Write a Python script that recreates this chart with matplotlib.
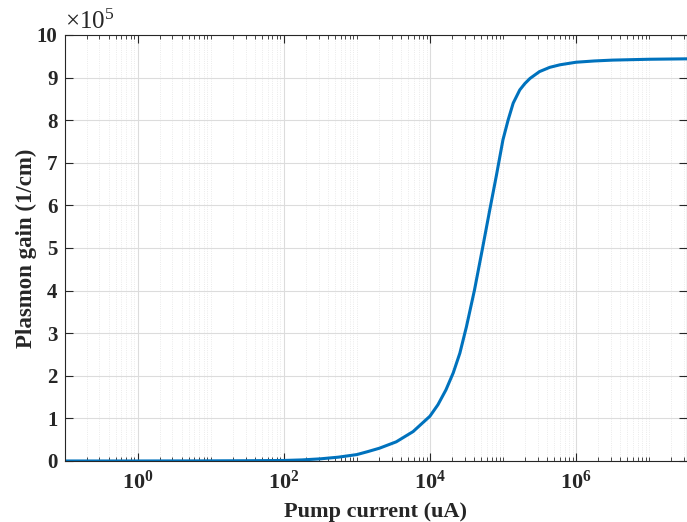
import matplotlib
matplotlib.use("Agg")
import matplotlib.pyplot as plt
import matplotlib.ticker as mticker
import numpy as np

# log10 of pump current (uA) and plasmon gain (x1e5 1/cm)
log_current = [-1.0, 0.0, 1.0, 1.5, 2.0, 2.25, 2.5, 2.75, 3.0, 3.15, 3.31,
               3.54, 3.77, 4.0, 4.11, 4.22, 4.32, 4.41, 4.50, 4.61, 4.72,
               4.82, 4.91, 5.00, 5.07, 5.14, 5.23, 5.30, 5.37, 5.50, 5.64,
               5.78, 6.0, 6.25, 6.5, 7.0, 7.52]
gain = [0.0, 0.0, 0.003, 0.006, 0.012, 0.025, 0.05, 0.09, 0.15, 0.22, 0.30,
        0.45, 0.69, 1.05, 1.32, 1.67, 2.07, 2.53, 3.15, 4.01, 4.99,
        5.90, 6.70, 7.54, 8.00, 8.40, 8.71, 8.86, 8.98, 9.14, 9.24,
        9.30, 9.36, 9.39, 9.41, 9.43, 9.44]
pump_current = 10.0 ** np.array(log_current)

major_x = [1e0, 1e2, 1e4, 1e6]
y_ticks = list(range(0, 11))

plt.rcParams['font.family'] = 'Liberation Serif'
plt.rcParams['font.weight'] = 'bold'
plt.rcParams['mathtext.fontset'] = 'custom'
plt.rcParams['mathtext.rm'] = 'Liberation Serif'
plt.rcParams['mathtext.bf'] = 'Liberation Serif:bold'

dark = '#262626'
fig = plt.figure(figsize=(6.87, 5.22), dpi=100)
ax = fig.add_axes([0.0939, 0.1169, 0.9061, 0.8161])

ax.plot(pump_current, gain, color='#0072BD', lw=2.2)
ax.set_xscale('log')
ax.set_xlim(1e-1, 3.3e7)
ax.set_ylim(0, 10)

ax.xaxis.set_major_locator(mticker.FixedLocator(major_x))
ax.xaxis.set_major_formatter(mticker.FuncFormatter(
    lambda v, p: r'$\mathbf{10^{%d}}$' % round(np.log10(v))))
ax.xaxis.set_minor_locator(mticker.LogLocator(base=10, subs=np.arange(1, 10), numticks=100))
ax.xaxis.set_minor_formatter(mticker.NullFormatter())
ax.set_yticks(y_ticks)

ax.grid(which='major', color='#dcdcdc', lw=0.8, ls='-')
ax.grid(which='minor', axis='x', color='#e4e4e4', lw=0.6, ls=':')
ax.set_axisbelow(True)

ax.tick_params(which='both', direction='in', top=True, right=True, colors=dark)
ax.tick_params(which='major', length=6, width=0.8)
ax.tick_params(which='minor', length=3, width=0.6)
ax.tick_params(axis='x', labelsize=16, pad=7)
ax.tick_params(axis='y', labelsize=15, pad=5)
for s in ax.spines.values():
    s.set_color(dark)
    s.set_linewidth(0.8)

ax.set_xlabel('Pump current (uA)', fontsize=16, fontweight='bold', color=dark, labelpad=6)
ax.set_ylabel('Plasmon gain (1/cm)', fontsize=16.5, fontweight='bold', color=dark, labelpad=0)
ax.text(0.0, 1.003, r'$\mathregular{\times10^{5}}$', transform=ax.transAxes,
        fontsize=18, fontweight='normal', color=dark, ha='left', va='bottom')

fig.savefig('out.png', dpi=100)
